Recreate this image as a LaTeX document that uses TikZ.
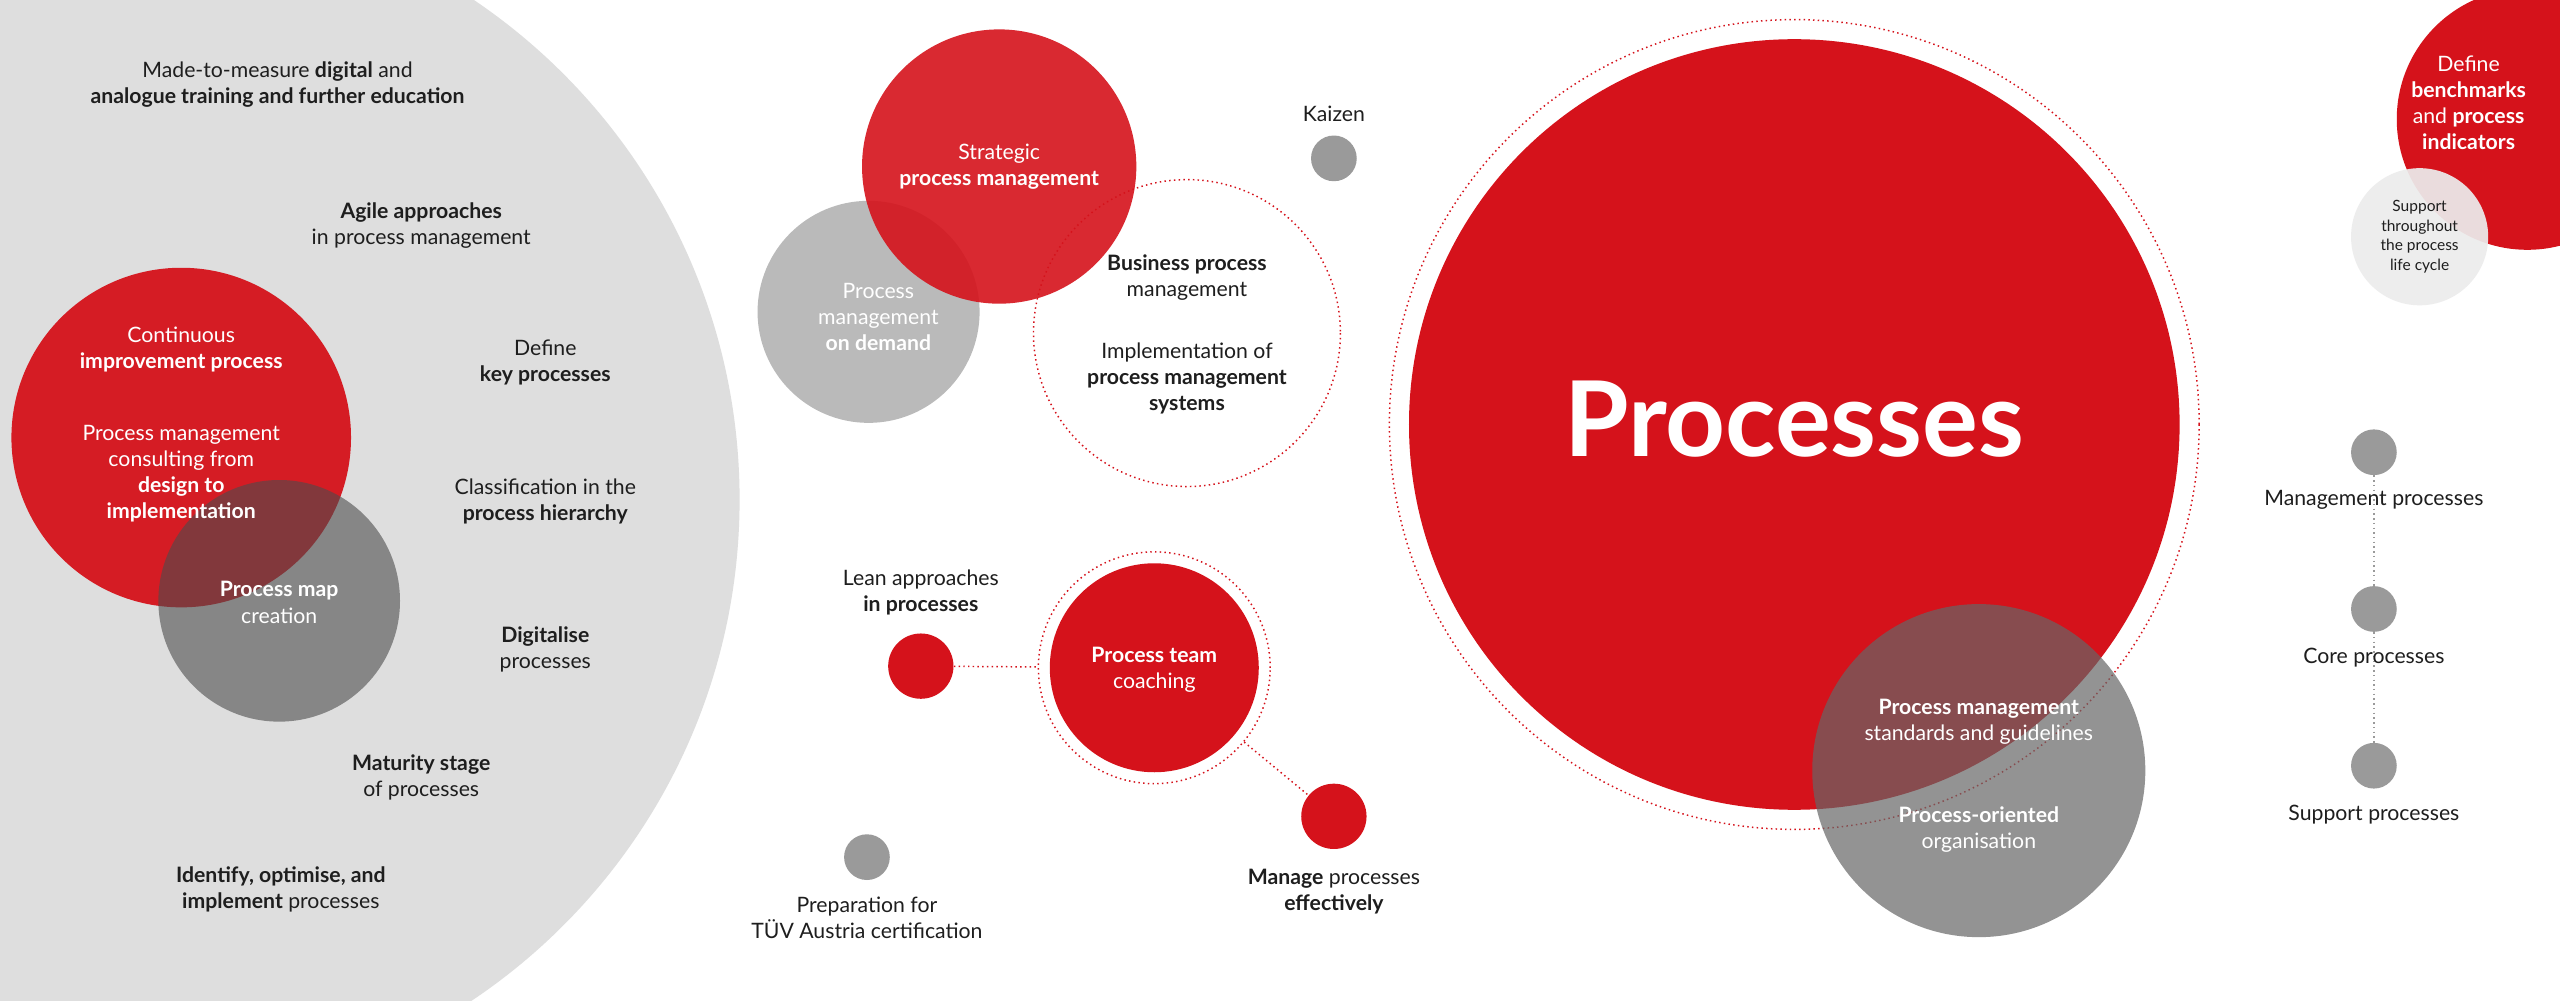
\documentclass[tikz,border=0pt]{standalone}
\usepackage{fontspec}
\setmainfont{Lato}
\definecolor{pred}{HTML}{D5121B}
\definecolor{pgray}{HTML}{DEDEDE}
\definecolor{dgray}{HTML}{6E6E6E}
\definecolor{mgray}{HTML}{9A9A9A}
\definecolor{txt}{HTML}{1E1E1E}
\tikzset{
  lbl/.style={align=center,font=\fontsize{13}{16}\selectfont,text=txt,inner sep=0pt},
  wlbl/.style={lbl,text=white},
  dotg/.style={circle,fill=mgray,draw=none,minimum size=28pt,inner sep=0pt},
  dotr/.style={circle,fill=pred,draw=none,minimum size=40pt,inner sep=0pt},
  ring/.style={draw=pred,dotted,line width=0.9pt},
}
\begin{document}
\begin{tikzpicture}[x=1pt,y=-1pt]
\useasboundingbox (0,0) rectangle (1568,613);
\clip (0,0) rectangle (1568,613);
\fill[white] (0,0) rectangle (1568,613);
% big gray
\fill[pgray] (84,306) circle (369);
\fill[pred,opacity=0.95] (111,268) circle (104);
\fill[black!70,opacity=0.6] (171,368) circle (74);
% middle
\fill[mgray!80,opacity=0.85] (532,191) circle (68);
\fill[pred,opacity=0.9] (612,102) circle (84);
\draw[ring] (727,204) circle (94);
\node[dotg] (kaizen) at (817,97) {};
% Processes
\draw[ring] (1099,260) circle (248);
\fill[pred] (1099,260) circle (236);
\fill[black!60,opacity=0.7] (1212,472) circle (102);
% top right
\fill[pred] (1548,73) circle (80);
\fill[gray!15,opacity=0.93] (1482,145) circle (42);
% right dots
\node[dotg] (m) at (1454,277) {};
\node[dotg] (c) at (1454,373) {};
\node[dotg] (s) at (1454,469) {};
\draw[mgray,dotted,line width=0.9pt] (m) -- (c);
\draw[mgray,dotted,line width=0.9pt] (c) -- (s);
% coaching
\node[circle,draw=pred,dotted,line width=0.9pt,minimum size=142pt,inner sep=0pt] (ring2) at (707,409) {};
\fill[pred] (707,409) circle (64);
\node[dotr] (lean) at (564,408) {};
\node[dotr] (manage) at (817,500) {};
\node[dotg] (tuv) at (531,525) {};
\draw[ring] (lean) -- (ring2);
\draw[ring] (ring2) -- (manage);
% texts left
\node[lbl] (t1) at (170,52) {Made-to-measure \textbf{digital} and\\\textbf{analogue training and further education}};
\node[lbl] (t2) at (258,138) {\textbf{Agile approaches}\\in process management};
\node[lbl] (t3) at (334,222) {Define\\\textbf{key processes}};
\node[lbl] (t4) at (334,307) {Classification in the\\\textbf{process hierarchy}};
\node[lbl] (t5) at (334,398) {\textbf{Digitalise}\\processes};
\node[lbl] (t6) at (258,476) {\textbf{Maturity stage}\\of processes};
\node[lbl] (t7) at (172,545) {\textbf{Identify, optimise, and}\\\textbf{implement} processes};
\node[wlbl] (t8) at (111,214) {Continuous\\\textbf{improvement process}};
\node[wlbl] (t9) at (111,290) {Process management\\consulting from\\\textbf{design to}\\\textbf{implementation}};
\node[wlbl] (t10) at (171,369) {\textbf{Process map}\\creation};
% middle texts
\node[wlbl] (t11) at (612,102) {Strategic\\\textbf{process management}};
\node[wlbl] (t12) at (538,194) {Process\\management\\\textbf{on demand}};
\node[lbl] (t13) at (817,70) {Kaizen};
\node[lbl] (t14) at (727,170) {\textbf{Business process}\\management};
\node[lbl] (t15) at (727,232) {Implementation of\\\textbf{process management}\\\textbf{systems}};
\node[lbl] (t16) at (564,363) {Lean approaches\\\textbf{in processes}};
\node[wlbl] (t17) at (707,410) {\textbf{Process team}\\coaching};
\node[lbl] (t18) at (531,562) {Preparation for\\TÜV Austria certification};
\node[lbl] (t19) at (817,546) {\textbf{Manage} processes\\\textbf{effectively}};
% big
\node[wlbl,font=\fontsize{64}{70}\selectfont\bfseries] (t20) at (1099,257) {Processes};
\node[wlbl] (t21) at (1212,442) {\textbf{Process management}\\standards and guidelines};
\node[wlbl] (t22) at (1212,508) {\textbf{Process-oriented}\\organisation};
\node[wlbl] (t23) at (1512,63) {Define\\\textbf{benchmarks}\\and \textbf{process}\\\textbf{indicators}};
\node[lbl,font=\fontsize{9.5}{12}\selectfont] (t24) at (1482,145) {Support\\throughout\\the process\\life cycle};
\node[lbl] (t25) at (1454,306) {Management processes};
\node[lbl] (t26) at (1454,403) {Core processes};
\node[lbl] (t27) at (1454,499) {Support processes};
\end{tikzpicture}
\end{document}
